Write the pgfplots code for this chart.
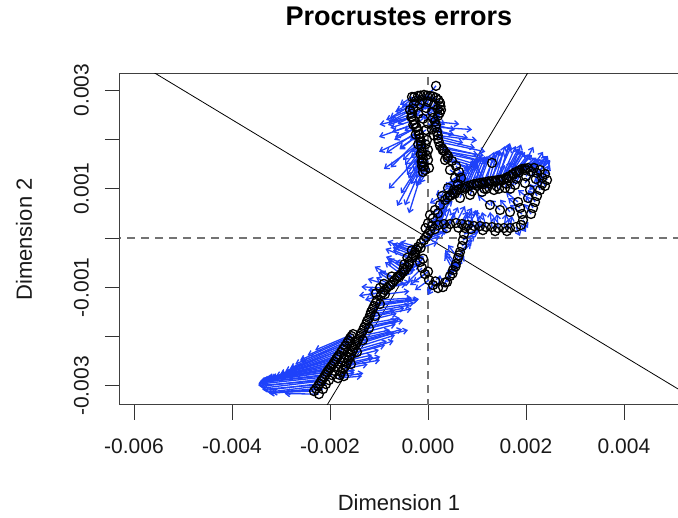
\documentclass[border=0pt]{standalone}
\usepackage{pgfplots}
\pgfplotsset{compat=1.18}
\usepackage{pgfplotstable}
\usepackage{fontspec}
\setmainfont{Liberation Sans}
\usetikzlibrary{arrows.meta}

\definecolor{arrowblue}{RGB}{30,65,250}

% Procrustes residuals, values in units of 1e-3
% x y = rotated configuration (circles), u v = arrow to target
\pgfplotstableread{
x y u v
-2.326 -3.106 -0.592 -0.020
-2.244 -3.004 -1.020 -0.122
-2.183 -2.903 -1.204 -0.142
-2.122 -2.822 -1.346 -0.142
-2.061 -2.720 -1.367 -0.183
-2.000 -2.639 -1.367 -0.244
-1.938 -2.558 -1.367 -0.305
-1.877 -2.456 -1.387 -0.386
-1.816 -2.375 -1.367 -0.467
-1.734 -2.253 -1.285 -0.508
-1.652 -2.132 -1.163 -0.508
-1.591 -2.030 -1.020 -0.447
-1.530 -1.949 -0.775 -0.325
-2.226 -3.166 -0.700 0.010
-2.144 -3.064 -1.100 -0.090
-2.083 -2.963 -1.300 -0.110
-2.022 -2.882 -1.440 -0.110
-1.961 -2.780 -1.460 -0.150
-1.900 -2.699 -1.470 -0.210
-1.838 -2.618 -1.470 -0.270
-1.777 -2.516 -1.490 -0.350
-1.716 -2.435 -1.470 -0.430
-1.634 -2.313 -1.390 -0.470
-1.552 -2.192 -1.270 -0.470
-1.491 -2.090 -1.120 -0.410
-2.285 -3.055 -0.900 -0.080
-2.213 -2.953 -1.120 -0.140
-2.152 -2.862 -1.280 -0.150
-2.091 -2.771 -1.360 -0.160
-2.030 -2.680 -1.370 -0.220
-1.969 -2.598 -1.370 -0.280
-1.907 -2.507 -1.380 -0.350
-1.846 -2.415 -1.370 -0.430
-1.775 -2.314 -1.330 -0.490
-1.693 -2.192 -1.220 -0.510
-1.621 -2.081 -1.090 -0.480
-1.560 -1.990 -0.900 -0.390
-1.837 -2.842 0.490 0.041
-1.776 -2.720 0.286 0.041
-1.694 -2.598 0.714 0.122
-1.633 -2.477 0.490 0.102
-1.571 -2.355 0.694 0.183
-1.510 -2.233 0.837 0.264
-1.449 -2.111 1.041 0.244
-1.388 -1.989 0.612 0.122
-1.327 -1.868 0.714 0.203
-1.265 -1.746 0.694 0.122
-1.204 -1.624 0.531 0.162
-1.163 -1.502 0.796 0.142
-1.102 -1.380 0.898 0.122
-1.041 -1.259 0.714 0.041
-0.959 -1.157 -0.327 -0.102
-0.878 -1.056 -0.347 0.000
-0.796 -0.974 0.429 0.081
-0.714 -0.893 -0.306 0.203
-0.633 -0.812 0.265 0.162
-0.551 -0.731 -0.327 0.244
-0.469 -0.650 0.306 0.102
-0.388 -0.528 -0.286 0.041
-0.327 -0.406 -0.388 0.162
-0.265 -0.284 -0.469 0.162
-0.204 -0.183 -0.367 0.102
-0.143 -0.102 0.388 0.142
-0.082 -0.041 0.429 0.162
-0.041 0.020 0.449 0.142
0.000 0.081 0.367 0.162
0.041 0.142 0.367 0.183
-1.717 -2.802 0.400 0.060
-1.574 -2.558 0.600 0.150
-1.451 -2.315 0.750 0.230
-1.329 -2.071 0.800 0.220
-1.207 -1.828 0.700 0.160
-1.082 -1.584 0.750 0.150
-0.982 -1.340 0.800 0.100
-0.880 -1.140 0.500 0.060
-0.760 -0.950 -0.300 0.150
-0.620 -0.780 0.350 0.150
-0.500 -0.620 -0.300 0.200
-0.380 -0.480 0.300 0.100
-0.260 -0.320 -0.400 0.150
-0.150 -0.200 0.350 0.120
-1.060 -1.120 -0.350 -0.050
-0.980 -1.010 -0.380 0.020
-0.900 -0.930 -0.330 0.100
-0.740 -0.780 -0.350 0.200
-0.480 -0.530 -0.380 0.150
-0.420 -0.400 -0.450 0.180
-0.330 -0.250 -0.500 0.180
-1.800 -2.780 0.300 0.050
-1.730 -2.660 0.500 0.100
-1.660 -2.540 0.550 0.120
-1.600 -2.420 0.600 0.150
-1.540 -2.290 0.700 0.200
-1.480 -2.170 0.800 0.250
-1.420 -2.050 0.650 0.150
-1.360 -1.930 0.700 0.180
-1.300 -1.810 0.650 0.140
-1.240 -1.680 0.600 0.150
-1.180 -1.560 0.700 0.140
-1.130 -1.440 0.850 0.120
-1.070 -1.320 0.750 0.080
-0.920 -1.100 -0.300 -0.050
-0.840 -1.010 0.400 0.080
-0.680 -0.850 -0.300 0.180
-0.590 -0.770 0.300 0.150
-0.510 -0.690 -0.300 0.220
-0.430 -0.590 0.300 0.100
-0.300 -0.350 -0.420 0.160
-0.240 -0.230 -0.380 0.120
-0.163 -0.487 -0.306 -0.264
-0.122 -0.609 -0.286 -0.284
-0.061 -0.731 -0.306 -0.223
0.020 -0.853 -0.286 -0.203
0.102 -0.954 -0.102 -0.203
0.204 -1.015 0.041 0.264
0.306 -0.995 0.184 0.386
0.388 -0.893 0.224 0.406
0.449 -0.771 0.245 0.365
0.510 -0.650 -0.163 0.305
0.571 -0.528 -0.224 0.284
0.612 -0.406 -0.204 0.264
0.653 -0.284 0.245 0.244
0.694 -0.162 0.265 0.203
0.714 -0.041 0.306 0.162
0.735 0.081 0.327 0.081
0.755 0.203 0.347 0.061
-0.100 -0.420 -0.280 -0.250
0.000 -0.680 -0.300 -0.220
0.150 -0.880 -0.150 -0.200
0.350 -0.900 0.220 0.400
0.500 -0.720 0.240 0.360
0.560 -0.580 -0.220 0.280
0.630 -0.350 0.250 0.240
0.082 0.244 0.163 0.284
0.204 0.264 0.143 0.305
0.327 0.284 0.122 0.325
0.449 0.284 0.163 0.345
0.571 0.305 0.184 0.345
0.694 0.284 0.204 0.325
0.816 0.264 0.204 0.305
0.939 0.244 -0.082 0.284
1.061 0.244 -0.102 0.325
1.184 0.223 -0.082 0.305
1.306 0.223 -0.041 0.305
1.429 0.203 -0.020 0.284
1.551 0.203 0.041 0.284
1.673 0.203 0.041 0.244
1.796 0.223 0.082 -0.183
1.898 0.264 0.102 -0.142
1.939 0.365 0.102 -0.162
1.918 0.487 -0.245 0.183
1.878 0.609 -0.245 0.203
1.837 0.731 -0.245 0.203
0.140 0.180 0.150 0.300
0.380 0.200 0.160 0.330
0.620 0.210 0.190 0.330
0.880 0.180 -0.100 0.300
1.120 0.160 -0.080 0.300
1.370 0.140 -0.030 0.290
1.610 0.140 0.050 0.260
0.000 0.300 0.350 0.200
0.100 0.400 0.300 0.220
0.200 0.500 0.300 0.250
-0.050 0.200 0.380 0.180
0.041 0.467 0.306 0.203
0.143 0.568 0.306 0.203
0.245 0.670 0.306 0.264
0.347 0.771 0.143 0.406
0.449 0.873 0.204 0.467
0.571 0.954 0.245 0.467
0.694 1.015 0.265 0.528
0.816 1.056 0.245 0.568
0.939 1.096 0.224 0.568
1.061 1.117 0.204 0.568
1.184 1.137 -0.286 0.447
1.306 1.157 0.163 0.629
1.429 1.177 0.245 0.751
1.551 1.198 0.327 0.629
1.673 1.259 0.306 0.487
1.796 1.340 0.327 0.345
1.918 1.401 0.367 0.183
2.041 1.421 0.388 0.122
2.163 1.421 0.286 0.244
2.286 1.380 0.204 0.203
2.388 1.299 0.102 0.183
2.429 1.177 -0.041 0.203
2.388 1.056 -0.102 0.223
2.286 0.974 -0.102 0.244
2.224 0.853 -0.143 0.244
2.184 0.731 -0.143 0.244
2.143 0.609 -0.143 0.244
2.102 0.487 -0.143 0.203
0.653 0.812 0.163 0.406
0.857 0.873 0.163 0.406
1.102 0.934 -0.245 0.244
1.347 0.974 0.224 0.508
1.571 1.015 0.204 0.528
1.776 1.076 0.204 0.406
1.980 1.117 0.265 0.305
2.082 0.974 0.245 0.203
2.041 0.812 -0.204 0.162
1.306 1.523 0.163 0.264
0.750 1.000 0.250 0.550
1.000 1.060 0.220 0.580
1.120 1.090 0.250 0.600
1.250 1.110 0.300 0.650
1.370 1.140 0.320 0.700
1.490 1.160 0.350 0.650
1.610 1.200 0.330 0.560
1.740 1.280 0.350 0.420
1.860 1.330 0.380 0.280
1.980 1.380 0.400 0.200
2.100 1.350 0.320 0.300
2.220 1.320 0.280 0.250
2.330 1.220 0.150 0.250
2.330 1.100 -0.100 0.250
0.550 0.900 0.200 0.450
0.900 0.950 -0.200 0.300
1.200 1.000 0.250 0.550
1.450 1.000 0.250 0.550
1.680 1.000 0.250 0.450
0.400 0.820 0.180 0.420
0.510 0.910 0.220 0.460
0.630 0.985 0.250 0.500
0.760 1.035 0.240 0.550
0.880 1.075 0.230 0.570
1.000 1.105 0.210 0.560
1.120 1.125 -0.250 0.450
1.240 1.150 0.180 0.620
1.370 1.165 0.200 0.700
1.490 1.185 0.300 0.680
1.610 1.230 0.320 0.550
1.730 1.300 0.320 0.400
1.860 1.370 0.350 0.260
1.980 1.410 0.380 0.150
1.600 1.100 0.300 0.800
1.800 1.200 0.350 0.650
2.000 1.250 0.350 0.500
2.200 1.200 0.250 0.450
1.400 1.050 0.250 0.850
1.150 1.000 0.200 0.750
1.265 0.670 -0.250 0.200
1.469 0.568 -0.200 0.200
1.673 0.528 -0.200 0.250
0.347 1.583 0.500 -0.150
0.449 1.380 0.300 -0.200
0.551 1.218 -0.200 -0.200
0.408 1.015 -0.250 -0.150
0.286 0.853 -0.250 -0.150
0.163 3.086 -0.245 -0.284
-0.327 2.862 -0.245 -0.162
-0.204 2.883 -0.265 -0.284
-0.082 2.903 -0.082 -0.264
0.041 2.883 -0.102 -0.284
0.163 2.842 -0.082 -0.284
0.245 2.741 -0.082 -0.305
0.265 2.598 -0.122 -0.244
0.204 2.477 -0.122 -0.244
0.082 2.558 -0.245 -0.122
-0.041 2.639 -0.327 -0.142
-0.163 2.720 -0.510 -0.162
-0.286 2.720 -0.490 -0.284
-0.250 2.780 -0.400 -0.200
-0.120 2.800 -0.300 -0.250
0.000 2.760 -0.250 -0.300
0.120 2.700 -0.200 -0.300
0.200 2.620 -0.150 -0.260
-0.300 2.620 -0.450 -0.250
-0.200 2.520 -0.420 -0.200
-0.100 2.420 -0.380 -0.250
0.000 2.320 0.300 -0.150
0.080 2.200 0.450 -0.100
0.120 2.080 0.600 -0.150
-0.280 2.860 -0.250 -0.200
-0.150 2.890 -0.200 -0.270
-0.020 2.890 -0.100 -0.280
0.100 2.870 -0.090 -0.280
0.210 2.800 -0.080 -0.300
0.255 2.670 -0.100 -0.270
0.240 2.540 -0.120 -0.250
-0.330 2.520 -0.480 -0.180
-0.290 2.390 -0.480 -0.160
-0.230 2.240 -0.440 -0.190
-0.180 2.100 -0.400 -0.280
-0.367 2.598 -0.490 -0.203
-0.327 2.456 -0.490 -0.162
-0.265 2.314 -0.469 -0.162
-0.204 2.172 -0.650 -0.450
-0.163 2.030 -0.600 -0.600
-0.143 1.888 -0.327 -0.406
-0.122 1.746 -0.306 -0.467
-0.102 1.604 -0.450 -0.700
-0.122 1.462 -0.350 -0.800
-0.102 1.340 -0.143 -0.264
-0.240 2.240 -0.450 -0.250
-0.180 2.100 -0.400 -0.300
-0.150 1.960 -0.360 -0.380
-0.130 1.820 -0.320 -0.440
-0.110 1.680 -0.290 -0.470
-0.110 1.530 -0.240 -0.440
-0.060 1.380 -0.180 -0.330
-0.050 1.900 -0.300 -0.280
-0.030 1.680 -0.280 -0.330
-0.150 1.700 -0.650 -0.700
-0.130 1.550 -0.500 -0.900
-0.200 1.900 -0.700 -0.500
-0.250 2.100 -0.750 -0.350
-0.300 2.300 -0.700 -0.250
-0.340 2.450 -0.650 -0.150
-0.090 1.450 -0.300 -0.950
-0.041 2.192 -0.327 -0.203
-0.020 1.989 -0.306 -0.244
0.000 1.786 -0.286 -0.305
0.000 1.583 -0.245 -0.365
0.020 1.421 -0.184 -0.305
0.102 2.436 0.245 -0.142
0.163 2.294 0.388 -0.102
0.184 2.152 0.633 -0.122
0.204 2.010 0.755 -0.183
0.245 1.868 0.776 -0.183
0.327 1.766 0.776 -0.142
0.408 1.665 0.612 -0.183
0.490 1.563 0.367 -0.183
0.571 1.462 0.184 -0.244
0.633 1.340 -0.143 -0.264
0.673 1.218 0.184 -0.244
0.612 1.096 -0.204 -0.162
0.531 0.974 -0.286 -0.162
0.449 0.853 -0.245 -0.183
0.140 2.360 0.500 -0.050
0.200 2.080 0.800 -0.100
0.290 1.820 0.850 -0.150
0.370 1.710 0.700 -0.150
0.150 2.250 0.750 -0.050
0.220 1.950 0.950 -0.200
0.300 1.780 0.900 -0.250
0.400 1.620 0.650 -0.200
}\procdata

\begin{document}
\begin{tikzpicture}
\useasboundingbox (-120pt,-113pt) rectangle (558pt,405pt);
\begin{axis}[
  scale only axis,
  width=558pt,
  height=331pt,
  xmin=-6.286, xmax=5.102,
  ymin=-3.387, ymax=3.327,
  axis line style={black!75, line width=1pt},
  tick style={black!80, line width=1pt},
  tick align=outside,
  major tick length=15pt,
  xtick pos=bottom,
  ytick pos=left,
  xtick={-6,-4,-2,0,2,4},
  xticklabels={-0.006,-0.004,-0.002,0.000,0.002,0.004},
  ytick={-3,-2,-1,0,1,2,3},
  yticklabels={-0.003,,-0.001,,0.001,,0.003},
  ticklabel style={font=\fontsize{21}{25}\selectfont, text=black!90},
  xticklabel style={anchor=north, inner sep=0pt, yshift=-19pt},
  yticklabel style={rotate=90, anchor=south, inner sep=0pt, yshift=16pt},
  xlabel={Dimension 1},
  ylabel={Dimension 2},
  label style={font=\fontsize{22}{26}\selectfont, text=black!90},
  xlabel style={at={(axis description cs:0.5,-0.296)}, anchor=center},
  ylabel style={at={(axis description cs:-0.172,0.5)}, anchor=center, rotate=0},
  title={\textbf{Procrustes errors}},
  title style={at={(axis description cs:0.5,1.155)}, anchor=center, font=\fontsize{27}{32}\selectfont},
]
% reference axes
\addplot[black!55, line width=1.3pt, dash pattern=on 8pt off 6pt] coordinates {(-7,0) (6,0)};
\addplot[black!55, line width=1.3pt, dash pattern=on 8pt off 6pt] coordinates {(0,-4) (0,4)};
% rotation axes
\addplot[black, line width=0.8pt] coordinates {(-2.2,-3.619) (2.2,3.619)};
\addplot[black, line width=0.8pt] coordinates {(-6.5,3.9) (5.5,-3.3)};
% arrows
\addplot[arrowblue, line width=1.3pt, -{Straight Barb[length=4pt,width=6pt]},
  quiver={u=\thisrow{u}, v=\thisrow{v}}] table[x=x, y=y] {\procdata};
% points
\addplot[only marks, mark=o, mark size=4.5pt, black, mark options={line width=1.3pt}]
  table[x=x, y=y] {\procdata};
\end{axis}
\end{tikzpicture}
\end{document}
